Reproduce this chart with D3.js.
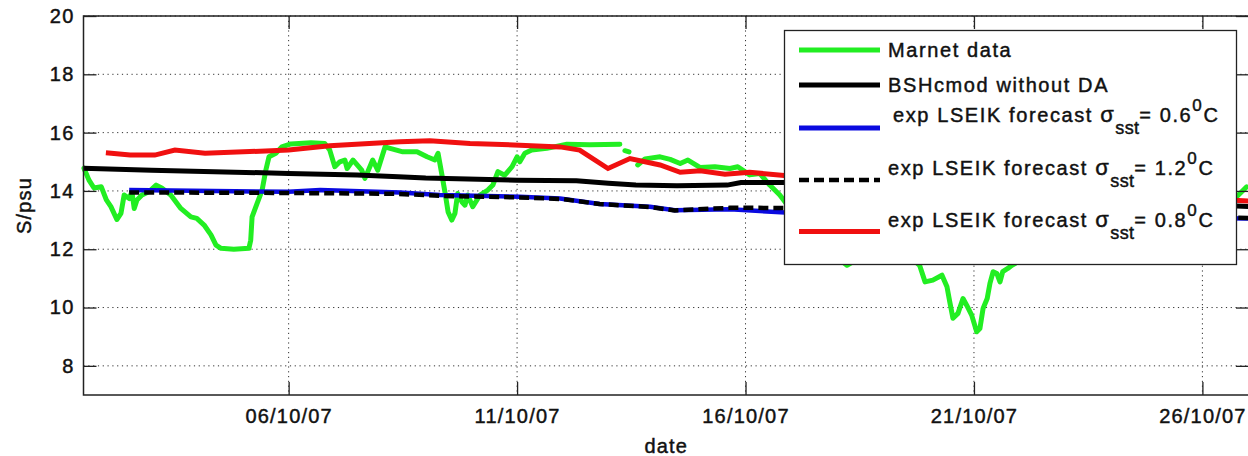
<!DOCTYPE html>
<html>
<head>
<meta charset="utf-8">
<script src="https://cdn.jsdelivr.net/npm/d3@7"></script>
<style>
  body { margin: 0; background: #fff; }
  svg text { font-family: "Liberation Sans", Arial, Helvetica, sans-serif; fill: #111; stroke: #111; stroke-width: 0.45px; }
  .tick text { font-size: 20px; letter-spacing: 1.2px; }
  .grid line { stroke: #333; stroke-width: 1; stroke-dasharray: 1.2,3.6; }
</style>
</head>
<body>
<div id="chart"></div>
<script>
// x values are days of October 2007 (fractional), y values salinity in psu
var marnetDays = [1.52, 1.63, 1.74, 1.90, 2.01, 2.11, 2.24, 2.33, 2.40, 2.51, 2.57, 2.62, 2.68, 2.79, 2.94, 3.10, 3.23, 3.42, 3.64, 3.86, 3.99, 4.15, 4.30, 4.41, 4.52, 4.80, 5.13, 5.17, 5.20, 5.31, 5.42, 5.50, 5.57, 5.72, 5.85, 6.05, 6.49, 6.79, 6.90, 7.01, 7.12, 7.23, 7.28, 7.41, 7.60, 7.67, 7.84, 7.95, 8.11, 8.22, 8.50, 8.81, 9.03, 9.20, 9.27, 9.35, 9.42, 9.49, 9.57, 9.64, 9.70, 9.79, 9.86, 9.92, 10.03, 10.19, 10.36, 10.47, 10.58, 10.73, 10.89, 11.00, 11.06, 11.17, 11.32, 11.65, 12.09, 12.59, 13.25, 13.30, 13.36, 13.45, 13.52, 13.64, 13.80, 14.13, 14.35, 14.57, 14.74, 15.01, 15.33, 15.66, 15.83, 16.09, 16.31, 16.53, 16.75, 16.90, 17.19, 17.62, 18.22, 18.72, 19.27, 19.70, 19.81, 19.93, 20.10, 20.30, 20.41, 20.47, 20.54, 20.65, 20.76, 20.84, 20.95, 21.06, 21.13, 21.20, 21.29, 21.35, 21.42, 21.50, 21.57, 21.63, 21.74, 21.83, 22.44, 23.32, 24.19, 25.07, 25.94, 26.75, 26.97];
var marnetSal = [14.78, 14.37, 14.10, 14.14, 13.69, 13.46, 13.02, 13.23, 13.86, 13.74, 13.97, 13.40, 13.69, 13.86, 13.97, 14.20, 14.09, 13.86, 13.40, 13.11, 13.06, 12.83, 12.49, 12.14, 12.03, 12.00, 12.03, 12.31, 13.11, 13.57, 14.03, 14.71, 15.17, 15.29, 15.51, 15.61, 15.65, 15.63, 15.40, 14.83, 15.00, 15.06, 14.77, 15.06, 14.71, 14.43, 15.06, 14.71, 15.51, 15.46, 15.34, 15.34, 15.17, 15.06, 15.29, 14.60, 13.97, 13.28, 13.00, 13.23, 13.91, 13.63, 13.51, 13.86, 13.46, 13.86, 14.03, 14.20, 14.66, 14.54, 14.83, 15.17, 15.00, 15.29, 15.40, 15.46, 15.60, 15.58, 15.60, null, 15.38, 15.34, null, 14.89, 15.10, 15.17, 15.08, 14.94, 15.06, 14.80, 14.83, 14.77, 14.83, 14.55, 14.60, 14.20, 13.86, 13.55, 13.00, 12.20, 11.45, 11.90, 12.00, 11.60, 11.45, 10.88, 10.94, 11.11, 10.71, 10.20, 9.63, 9.80, 10.31, 10.08, 9.74, 9.17, 9.28, 9.97, 10.31, 10.83, 11.23, 11.17, 10.88, 11.23, 11.34, 11.45, 12.00, 12.60, 13.00, 13.30, 13.50, 13.80, 14.14];

var modelDays = [1.50, 3.00, 6.00, 7.50, 8.40, 9.00, 11.00, 12.30, 13.00, 13.60, 14.50, 15.60, 15.90, 16.90, 19.00, 22.00, 25.00, 27.10];
var modelSal = [14.78, 14.71, 14.60, 14.55, 14.49, 14.44, 14.37, 14.35, 14.26, 14.20, 14.18, 14.20, 14.29, 14.29, 14.10, 13.85, 13.60, 13.46];

var lseik06Days = [2.51, 6.00, 6.69, 8.44, 9.31, 11.06, 11.94, 12.81, 13.91, 14.45, 15.66, 16.97, 20.00, 24.00, 27.10];
var lseik06Sal = [14.03, 13.97, 14.03, 13.95, 13.86, 13.80, 13.74, 13.55, 13.46, 13.34, 13.37, 13.25, 13.20, 13.10, 13.05];

var lseik12Days = [2.51, 6.00, 8.40, 9.30, 11.00, 12.00, 12.80, 13.90, 14.45, 15.66, 16.20, 16.97, 20.00, 24.00, 27.10];
var lseik12Sal = [13.95, 13.93, 13.90, 13.83, 13.78, 13.72, 13.55, 13.45, 13.33, 13.42, 13.42, 13.41, 13.30, 13.15, 13.07];

var lseik08Days = [2.00, 2.53, 3.07, 3.51, 4.17, 6.00, 6.90, 8.44, 9.09, 9.97, 11.06, 11.94, 12.37, 12.99, 13.47, 14.13, 14.57, 15.01, 15.55, 16.09, 16.97, 20.00, 24.00, 27.10];
var lseik08Sal = [15.31, 15.23, 15.23, 15.40, 15.29, 15.40, 15.55, 15.69, 15.72, 15.63, 15.57, 15.51, 15.40, 14.77, 15.11, 14.89, 14.64, 14.69, 14.57, 14.64, 14.51, 14.20, 13.90, 13.65];

var xTickDays = [6, 11, 16, 21, 26];
var yTicks = [8, 10, 12, 14, 16, 18, 20];

function day(d) { return new Date(Date.UTC(2007, 9, 1) + (d - 1) * 864e5); }
function pairs(xs, ys) { return xs.map(function(d, i) { return { t: day(d), v: ys[i] }; }); }

var width = 1248, height = 456;
var margin = { left: 83.5, right: 1249, top: 16, bottom: 395 };

var svg = d3.select("#chart").append("svg")
    .attr("width", width)
    .attr("height", height);

var x = d3.scaleUtc()
    .domain([day(1.51), day(27.02)])
    .range([margin.left, margin.right]);

var y = d3.scaleLinear()
    .domain([7, 20])
    .range([margin.bottom, margin.top]);

// dotted grid
var grid = svg.append("g").attr("class", "grid");
grid.selectAll(".gx")
    .data(xTickDays)
    .enter().append("line")
    .attr("x1", function(d) { return x(day(d)); })
    .attr("x2", function(d) { return x(day(d)); })
    .attr("y1", margin.top)
    .attr("y2", margin.bottom);
grid.selectAll(".gy")
    .data(yTicks)
    .enter().append("line")
    .attr("x1", margin.left)
    .attr("x2", margin.right)
    .attr("y1", function(d) { return y(d); })
    .attr("y2", function(d) { return y(d); });

var line = d3.line()
    .defined(function(d) { return d.v !== null; })
    .x(function(d) { return x(d.t); })
    .y(function(d) { return y(d.v); });

var plot = svg.append("g");

plot.append("path")
    .datum(pairs(marnetDays, marnetSal))
    .attr("fill", "none")
    .attr("stroke", "#22ee22")
    .attr("stroke-width", 5)
    .attr("stroke-linejoin", "round")
    .attr("stroke-linecap", "round")
    .attr("d", line);

plot.append("path")
    .datum(pairs(modelDays, modelSal))
    .attr("fill", "none")
    .attr("stroke", "#000")
    .attr("stroke-width", 5)
    .attr("d", line);

plot.append("path")
    .datum(pairs(lseik06Days, lseik06Sal))
    .attr("fill", "none")
    .attr("stroke", "#0a0ae0")
    .attr("stroke-width", 4.5)
    .attr("d", line);

plot.append("path")
    .datum(pairs(lseik12Days, lseik12Sal))
    .attr("fill", "none")
    .attr("stroke", "#000")
    .attr("stroke-width", 4.5)
    .attr("stroke-dasharray", "10,5")
    .attr("d", line);

plot.append("path")
    .datum(pairs(lseik08Days, lseik08Sal))
    .attr("fill", "none")
    .attr("stroke", "#f01010")
    .attr("stroke-width", 5)
    .attr("d", line);

// axes with inward ticks
var tickDates = xTickDays.map(day);

var xb = svg.append("g")
    .attr("transform", "translate(0," + margin.bottom + ")")
    .call(d3.axisBottom(x).tickValues(tickDates).tickFormat(d3.utcFormat("%d/%m/%y")).tickSize(-13).tickPadding(14));
var xt = svg.append("g")
    .attr("transform", "translate(0," + margin.top + ")")
    .call(d3.axisTop(x).tickValues(tickDates).tickFormat("").tickSize(-13));
var yl = svg.append("g")
    .attr("transform", "translate(" + margin.left + ",0)")
    .call(d3.axisLeft(y).tickValues(yTicks).tickSize(-13).tickPadding(9));
var yr = svg.append("g")
    .attr("transform", "translate(" + margin.right + ",0)")
    .call(d3.axisRight(y).tickValues(yTicks).tickFormat("").tickSize(-13));

[xb, xt, yl, yr].forEach(function(g) {
    g.select(".domain").remove();
    g.selectAll(".tick line").attr("stroke", "#222").attr("stroke-width", 1.3);
    g.selectAll(".tick text").attr("fill", "#111");
});

svg.append("rect")
    .attr("x", margin.left)
    .attr("y", margin.top)
    .attr("width", margin.right - margin.left)
    .attr("height", margin.bottom - margin.top)
    .attr("fill", "none")
    .attr("stroke", "#222")
    .attr("stroke-width", 1.5);

// axis labels
svg.append("text")
    .attr("x", (margin.left + margin.right) / 2)
    .attr("y", 453)
    .attr("text-anchor", "middle")
    .style("font-size", "20px")
    .style("letter-spacing", "1.2px")
    .text("date");

svg.append("text")
    .attr("transform", "translate(31," + ((margin.top + margin.bottom) / 2) + ") rotate(-90)")
    .attr("text-anchor", "middle")
    .style("font-size", "20px")
    .style("letter-spacing", "1.2px")
    .text("S/psu");

// legend
var legend = svg.append("g");
legend.append("rect")
    .attr("x", 784.5)
    .attr("y", 30.5)
    .attr("width", 452)
    .attr("height", 234)
    .attr("fill", "#fff")
    .attr("stroke", "#222")
    .attr("stroke-width", 1.3);

var legendItems = [
    { color: "#22ee22", dash: null, ly: 50, ty: 57, tx: 888, main: "Marnet data" },
    { color: "#000", dash: null, ly: 85, ty: 92, tx: 888, main: "BSHcmod without DA" },
    { color: "#0a0ae0", dash: null, ly: 128, ty: 122, tx: 893, main: "exp LSEIK forecast ", val: "0.6" },
    { color: "#000", dash: "10,5", ly: 180, ty: 175, tx: 888, main: "exp LSEIK forecast ", val: "1.2" },
    { color: "#f01010", dash: null, ly: 231.5, ty: 227, tx: 888, main: "exp LSEIK forecast ", val: "0.8" }
];

legendItems.forEach(function(d) {
    legend.append("line")
        .attr("x1", 799)
        .attr("x2", 880)
        .attr("y1", d.ly)
        .attr("y2", d.ly)
        .attr("stroke", d.color)
        .attr("stroke-width", d.dash ? 4.5 : 5)
        .attr("stroke-dasharray", d.dash);

    var t = legend.append("text")
        .attr("x", d.tx)
        .attr("y", d.ty)
        .style("font-size", "20px")
        .style("letter-spacing", "1.6px");
    t.append("tspan").text(d.main);
    if (d.val) {
        t.append("tspan").style("font-size", "22px").text("\u03c3");
        t.append("tspan").attr("dy", 12).style("font-size", "18px").style("letter-spacing", "0.3px").text("sst");
        t.append("tspan").attr("dy", -12).text("= " + d.val);
        t.append("tspan").attr("dy", -11).style("font-size", "17px").text("0");
        t.append("tspan").attr("dy", 11).text("C");
    }
});
</script>
</body>
</html>
